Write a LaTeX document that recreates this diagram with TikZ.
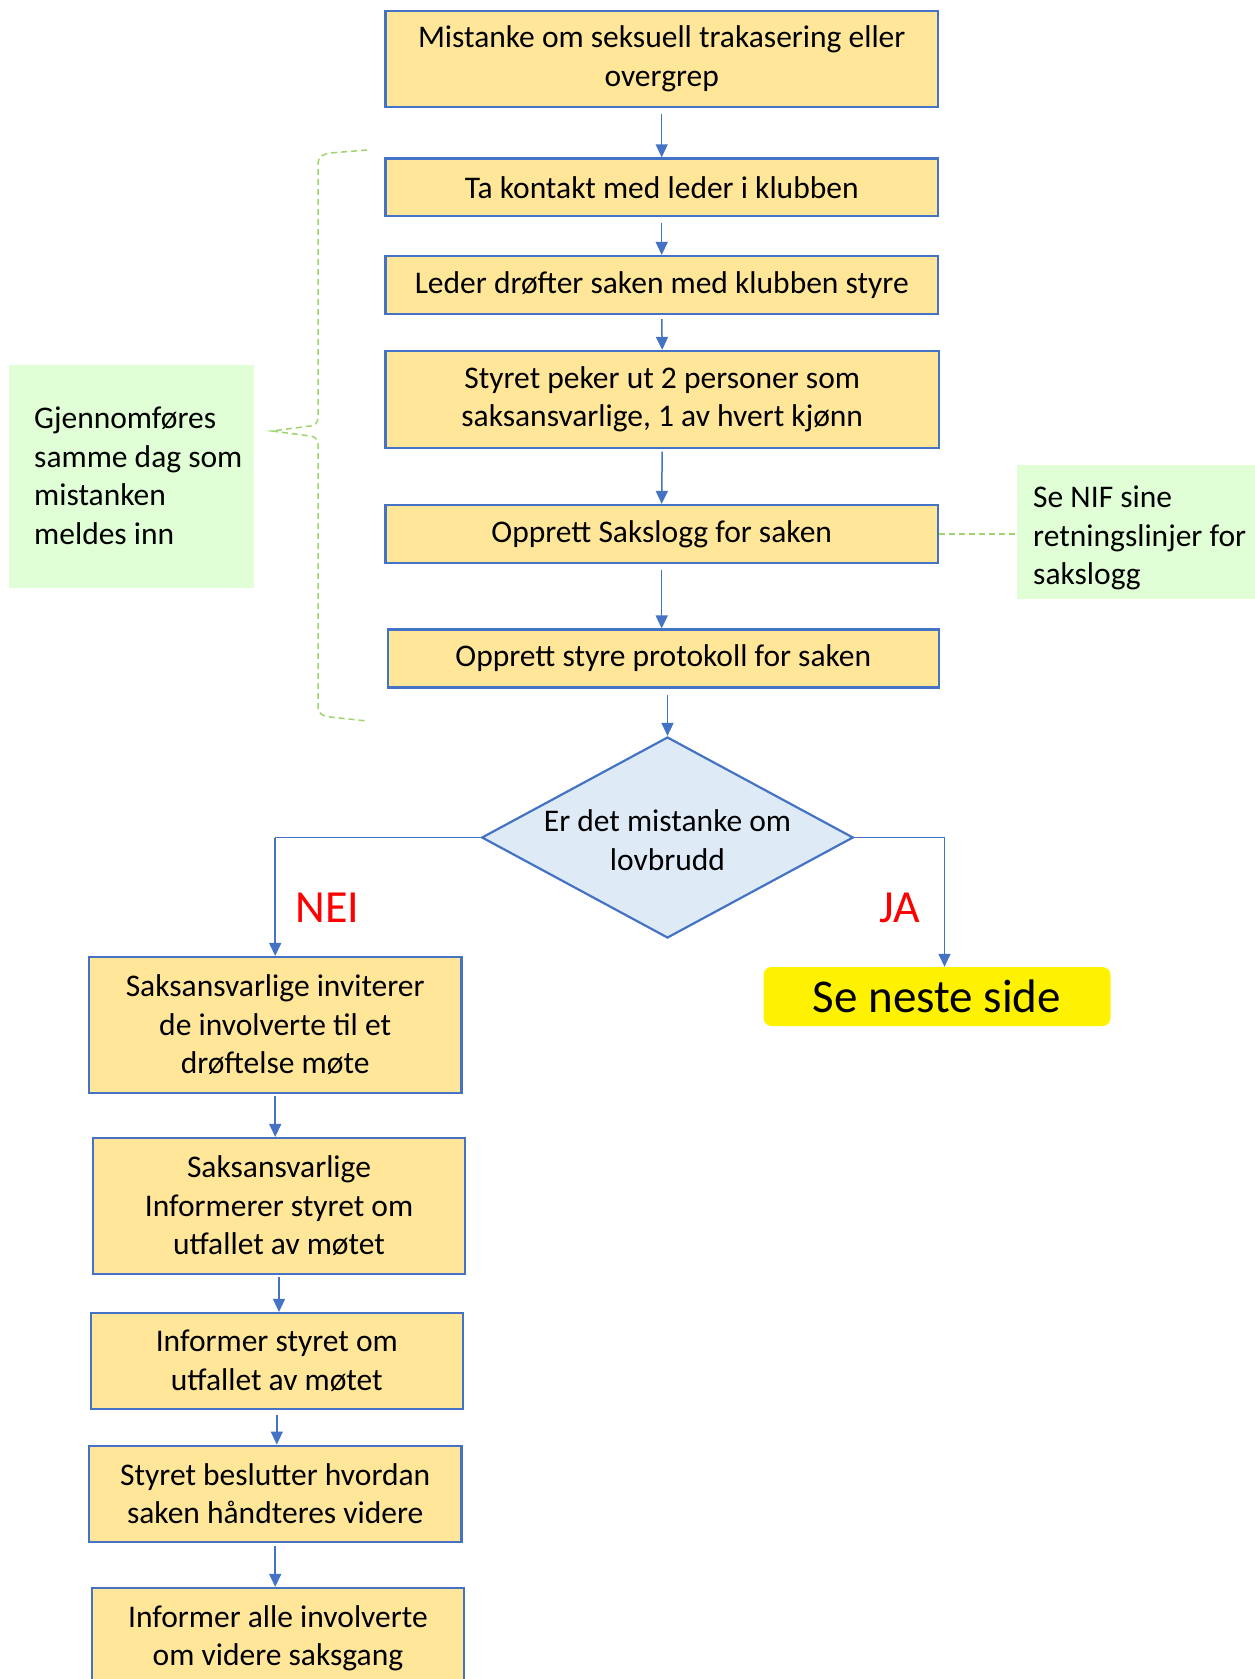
\documentclass[tikz,border=0pt]{standalone}
\usepackage{fontspec}
\setmainfont{Carlito}
\usetikzlibrary{shapes.geometric,arrows.meta}
\definecolor{boxfill}{HTML}{FFE699}
\definecolor{boxdraw}{HTML}{4472C4}
\definecolor{diafill}{HTML}{DEEBF7}
\definecolor{notefill}{HTML}{E0FFD6}
\definecolor{dashgreen}{RGB}{160,212,110}
\begin{document}
\begin{tikzpicture}[x=1pt,y=-1pt,
  flowbox/.style={draw=boxdraw, fill=boxfill, line width=2.2pt, inner sep=0pt, align=center, font=\fontsize{31.5}{38.5}\selectfont},
  decision/.style={shape=diamond, draw=boxdraw, fill=diafill, line width=2.2pt, inner sep=0pt},
  plaintext/.style={inner sep=0pt, align=center, font=\fontsize{31.5}{38.5}\selectfont},
  notebox/.style={fill=notefill, inner sep=0pt},
  notetext/.style={inner sep=0pt, align=left, anchor=west, font=\fontsize{31.5}{38.5}\selectfont},
  flowarrow/.style={draw=boxdraw, line width=1.5pt, -{Triangle[width=12pt,length=13pt]}},
  plainline/.style={draw=boxdraw, line width=1.5pt},
  greendash/.style={draw=dashgreen, line width=1.5pt, dash pattern=on 6pt off 4pt},
  answer/.style={text=red, inner sep=0pt, font=\fontsize{46}{50}\selectfont},
  nextbox/.style={fill=yellow, rounded corners=8pt, inner sep=0pt, font=\fontsize{47}{52}\selectfont}
]
\useasboundingbox (0,0) rectangle (1255,1679);

% top column
\node[flowbox, minimum width=552.5, minimum height=96.3] (b1) at (661.7,58.9) {Mistanke om seksuell trakasering eller\\overgrep};
\node[flowbox, minimum width=552.5, minimum height=57.8] (b2) at (661.7,187.3) {Ta kontakt med leder i klubben};
\node[flowbox, minimum width=552.5, minimum height=58] (b3) at (661.7,285) {Leder drøfter saken med klubben styre};
\node[flowbox, minimum width=553.5, minimum height=96.6] (b4) at (662.2,399.3) {Styret peker ut 2 personer som\\saksansvarlige, 1 av hvert kjønn};
\node[flowbox, minimum width=552.5, minimum height=58] (b5) at (661.7,534) {Opprett Sakslogg for saken};
\node[flowbox, minimum width=551.4, minimum height=58] (b6) at (663.3,658.5) {Opprett styre protokoll for saken};
\node[decision, minimum width=371.6, minimum height=201] (d1) at (667.5,837.5) {};
\node[plaintext] (d1text) at (667.5,840) {Er det mistanke om\\lovbrudd};

% lower column
\node[flowbox, minimum width=372.5, minimum height=136] (c1) at (275.2,1025) {Saksansvarlige inviterer\\de involverte til et\\drøftelse møte};
\node[flowbox, minimum width=372, minimum height=136] (c2) at (279,1206) {Saksansvarlige\\Informerer styret om\\utfallet av møtet};
\node[flowbox, minimum width=371.6, minimum height=96] (c3) at (276.8,1361) {Informer styret om\\utfallet av møtet};
\node[flowbox, minimum width=372.5, minimum height=96.4] (c4) at (275.2,1493.8) {Styret beslutter hvordan\\saken håndteres videre};
\node[flowbox, minimum width=371.7, minimum height=100] (c5) at (277.9,1638) {Informer alle involverte\\om videre saksgang};

% yes branch target
\node[nextbox, minimum width=347, minimum height=59] (next) at (937,996.5) {Se neste side};

% answers
\node[answer] (nei) at (327.7,908) {NEI};
\node[answer] (ja) at (899.5,908) {JA};

% notes
\node[notebox, minimum width=245.2, minimum height=223] (gleft) at (131.2,476.5) {};
\node[notetext] (glefttext) at (34,476) {Gjennomføres\\samme dag som\\mistanken\\meldes inn};
\node[notebox, minimum width=238, minimum height=133.6] (gright) at (1136,531.8) {};
\node[notetext] (grighttext) at (1033,538) {Se NIF sine\\retningslinjer for\\sakslogg};

% connectors top
\draw[flowarrow, shorten <=6pt] (b1.south) -- (b2.north);
\draw[flowarrow, shorten <=6pt] (b2.south) -- (b3.north);
\draw[flowarrow, shorten <=4pt] (b3.south) -- (b4.north);
\draw[flowarrow, shorten <=3pt] (b4.south) -- (b5.north);
\draw[flowarrow, shorten <=6pt] (b5.south) -- (b5.south |- b6.north);
\draw[flowarrow, shorten <=6pt] (b6.south -| d1.north) -- (d1.north);

% branches
\coordinate (neicorner) at (c1.north |- d1.west);
\coordinate (jacorner) at (944.5,837.5);
\draw[plainline] (d1.west) -- (neicorner);
\draw[flowarrow] (neicorner) -- (c1.north);
\draw[plainline] (d1.east) -- (jacorner);
\draw[flowarrow] (jacorner) -- (jacorner |- next.north);

% lower connectors
\draw[flowarrow, shorten <=2pt] (c1.south) -- (c1.south |- c2.north);
\draw[flowarrow, shorten <=2pt] (c2.south) -- (c2.south |- c3.north);
\draw[flowarrow, shorten <=5pt] (c3.south) -- (c3.south |- c4.north);
\draw[flowarrow, shorten <=3pt] (c4.south) -- (c4.south |- c5.north);

% dashed links
\draw[greendash] (b5.east) -- (b5.east -| gright.west);
\coordinate (bracetop) at (367,150);
\coordinate (bracebot) at (367,721);
\coordinate (bracetip) at (272,431);
\draw[greendash] (bracetop) -- (330,153) to[out=185,in=90] (318,163) -- (318,418)
  to[out=-90,in=0] (310,426) -- (bracetip) -- (310,436) to[out=0,in=90] (318,444)
  -- (318,708) to[out=-90,in=175] (330,717) -- (bracebot);
\end{tikzpicture}
\end{document}
